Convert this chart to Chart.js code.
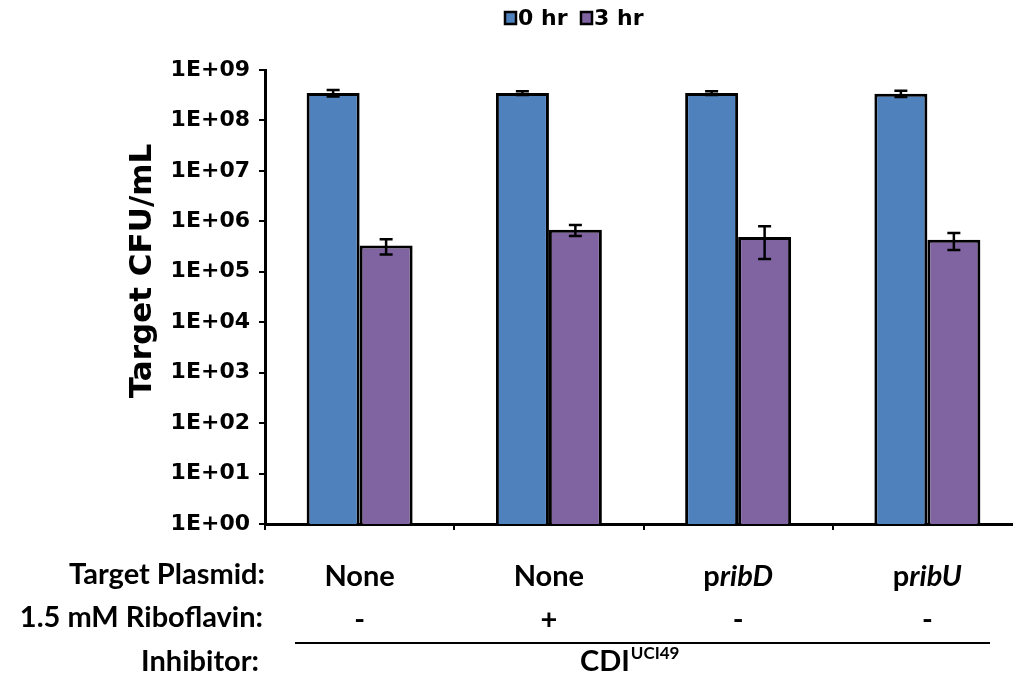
<!DOCTYPE html>
<html>
<head>
<meta charset="utf-8">
<script src="https://cdn.jsdelivr.net/npm/chart.js@4"></script>
<style>
	body { margin: 0; background: #fff; }
	#wrap { width: 1013px; height: 679px; overflow: hidden; }
</style>
</head>
<body>
<div id="wrap"><canvas id="chart" width="1030" height="679"></canvas></div>
<script>
var seriesNames = ["0 hr", "3 hr"];
var seriesColours = ["#4F81BD", "#8064A2"];
var yTitle = "Target CFU/mL";

// target plasmid label: [plain part, italic part]
var plasmids = [["None", ""], ["None", ""], ["p", "ribD"], ["p", "ribU"]];
var riboflavin = ["-", "+", "-", "-"];
var inhibitor = ["CDI", "UCI49"];

var hr0 = [3.5e8, 3.5e8, 3.5e8, 3.4e8];
var hr0Err = [5e7, 3e7, 3e7, 5e7];
var hr3 = [3.3e5, 6.8e5, 4.9e5, 4.3e5];
var hr3Err = [1.1e5, 1.7e5, 3.1e5, 1.6e5];

var tickExponents = [0, 1, 2, 3, 4, 5, 6, 7, 8, 9];

var rowFont = "bold 29px Lato";
var rowItalic = "italic bold 29px Lato";

var annotate = {
	id: "annotate",

	afterDatasetsDraw: function (chart) {
		var ctx = chart.ctx;
		var y = chart.scales.y;

		ctx.save();
		ctx.strokeStyle = "#000";
		ctx.lineWidth = 2.5;
		chart.data.datasets.forEach(function (ds, d) {
			chart.getDatasetMeta(d).data.forEach(function (bar, i) {
				var top = y.getPixelForValue(ds.data[i] + ds.errors[i]);
				var bot = y.getPixelForValue(ds.data[i] - ds.errors[i]);
				ctx.beginPath();
				ctx.moveTo(bar.x, top);
				ctx.lineTo(bar.x, bot);
				ctx.moveTo(bar.x - 6.5, top);
				ctx.lineTo(bar.x + 6.5, top);
				ctx.moveTo(bar.x - 6.5, bot);
				ctx.lineTo(bar.x + 6.5, bot);
				ctx.stroke();
			});
		});
		ctx.restore();
	},

	afterDraw: function (chart) {
		var ctx = chart.ctx;
		var x = chart.scales.x;

		ctx.save();
		ctx.fillStyle = "#000";
		ctx.textBaseline = "middle";

		// y title
		ctx.save();
		ctx.translate(143, 271);
		ctx.rotate(-Math.PI / 2);
		ctx.font = "bold 31px 'DejaVu Sans'";
		ctx.textAlign = "center";
		ctx.fillText(yTitle, 0, 0);
		ctx.restore();

		// legend
		ctx.font = "bold 22px 'DejaVu Sans'";
		var lx = [505, 581];
		chart.data.datasets.forEach(function (ds, d) {
			ctx.fillStyle = ds.backgroundColor;
			ctx.fillRect(lx[d], 12, 11, 12);
			ctx.strokeStyle = "#000";
			ctx.lineWidth = 2.5;
			ctx.strokeRect(lx[d], 12, 11, 12);
			ctx.fillStyle = "#000";
			ctx.textAlign = "left";
			ctx.fillText(ds.label, lx[d] + 13, 19);
		});

		// row headings
		ctx.font = rowFont;
		ctx.textAlign = "right";
		ctx.fillText("Target Plasmid:", 265, 575);
		ctx.fillText("1.5 mM Riboflavin:", 263, 618);
		ctx.fillText("Inhibitor:", 259, 662);

		// per-category rows
		ctx.textAlign = "left";
		plasmids.forEach(function (p, i) {
			var cx = x.getPixelForValue(i);
			ctx.font = rowFont;
			var w1 = ctx.measureText(p[0]).width;
			ctx.font = rowItalic;
			var w2 = ctx.measureText(p[1]).width;
			var sx = cx - (w1 + w2) / 2;
			ctx.font = rowFont;
			ctx.fillText(p[0], sx, 577);
			ctx.font = rowItalic;
			ctx.fillText(p[1], sx + w1, 577);

			ctx.font = rowFont;
			ctx.textAlign = "center";
			ctx.fillText(riboflavin[i], cx, 620);
			ctx.textAlign = "left";
		});

		ctx.strokeStyle = "#000";
		ctx.lineWidth = 2;
		ctx.beginPath();
		ctx.moveTo(295, 643);
		ctx.lineTo(990, 643);
		ctx.stroke();

		ctx.font = rowFont;
		ctx.fillText(inhibitor[0], 580, 662);
		var cw = ctx.measureText(inhibitor[0]).width;
		ctx.font = "bold 17px Lato";
		ctx.fillText(inhibitor[1], 580 + cw + 1, 654);

		ctx.restore();
	},
};

new Chart(document.getElementById("chart"), {
	type: "bar",
	data: {
		labels: plasmids.map(function (p) { return p.join(""); }),
		datasets: [
			{
				label: seriesNames[0],
				data: hr0,
				errors: hr0Err,
				backgroundColor: seriesColours[0],
				borderColor: "#000",
				borderWidth: 3,
			},
			{
				label: seriesNames[1],
				data: hr3,
				errors: hr3Err,
				backgroundColor: seriesColours[1],
				borderColor: "#000",
				borderWidth: 3,
			},
		],
	},
	options: {
		responsive: false,
		animation: false,
		layout: { padding: { left: 120, top: 70, right: 8, bottom: 0 } },
		datasets: { bar: { barPercentage: 1, categoryPercentage: 0.56 } },
		plugins: {
			legend: { display: false },
			tooltip: { enabled: false },
		},
		scales: {
			x: {
				ticks: { display: false },
				grid: {
					drawOnChartArea: false,
					color: "#000",
					lineWidth: 2,
					tickLength: 6,
				},
				border: { color: "#000", width: 3 },
				afterFit: function (scale) {
					scale.height = 155;
				},
			},
			y: {
				type: "logarithmic",
				min: 1,
				max: 1e9,
				afterBuildTicks: function (scale) {
					scale.ticks = tickExponents.map(function (e) {
						return { value: Math.pow(10, e) };
					});
				},
				afterFit: function (scale) {
					scale.width = 145;
				},
				ticks: {
					color: "#000",
					padding: 9,
					font: { family: "DejaVu Sans", weight: "bold", size: 22 },
					callback: function (value) {
						var e = Math.round(Math.log10(value));
						return "1E+" + (e < 10 ? "0" : "") + e;
					},
				},
				grid: {
					drawOnChartArea: false,
					color: "#000",
					lineWidth: 2,
					tickLength: 6,
				},
				border: { color: "#000", width: 3 },
			},
		},
	},
	plugins: [annotate],
});
</script>
</body>
</html>
